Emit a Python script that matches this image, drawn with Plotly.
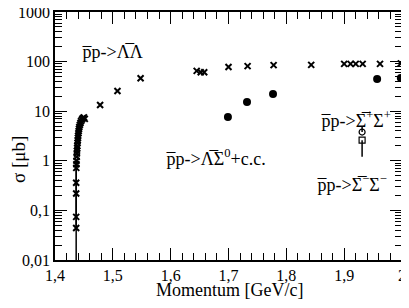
import plotly.graph_objects as go

# pbar p -> Lambda-bar Lambda (crosses)
ll_p = [1.4366, 1.4366, 1.4366, 1.4366, 1.4368,
        1.4370, 1.4372, 1.4375, 1.4378, 1.4380, 1.4383, 1.4386, 1.4390, 1.4393,
        1.4397, 1.4400, 1.4405, 1.4410, 1.4415, 1.4420, 1.4430, 1.4440, 1.4450,
        1.4465, 1.4480, 1.4500, 1.4515,
        1.478, 1.508, 1.548, 1.645, 1.652, 1.658, 1.700, 1.733, 1.778, 1.843,
        1.900, 1.911, 1.920, 1.932, 1.962, 1.998]
ll_s = [0.044, 0.074, 0.22, 0.36, 0.72,
        0.85, 1.0, 1.2, 1.4, 1.6, 1.8, 2.0, 2.3, 2.6,
        2.9, 3.2, 3.6, 4.0, 4.4, 4.8, 5.3, 5.8, 6.3,
        6.8, 7.2, 7.5, 7.0,
        13.3, 25.5, 46, 65, 61, 61, 78, 81, 85, 86,
        90, 90, 90, 90, 90, 92]
ll_err_minus = [0.04, 0.03, 0.15, 0.15, 0.35] + [0] * (len(ll_p) - 5)
ll_err_plus = [0.04, 0.15, 0.2, 0.45, 0.3] + [0] * (len(ll_p) - 5)

# pbar p -> Lambda-bar Sigma0 + c.c. (filled circles)
ls_p = [1.699, 1.732, 1.777, 1.957, 1.998]
ls_s = [7.6, 15.3, 22.2, 44.6, 46.5]

# pbar p -> Sigma-bar+ Sigma+ (open circle, open square)
sp_p = [1.931]
sp_circle = [3.8]
sp_square = [2.6]

xtick_vals = [1.4, 1.5, 1.6, 1.7, 1.8, 1.9, 2.0]
xtick_text = ["1,4", "1,5", "1,6", "1,7", "1,8", "1,9", "2"]
ytick_vals = [0.01, 0.1, 1, 10, 100, 1000]
ytick_text = ["0,01", "0,1", "1", "10", "100", "1000"]

FONT = "Liberation Serif, Times New Roman, serif"

fig = go.Figure()
fig.add_trace(go.Scatter(
    x=ll_p, y=ll_s, mode="markers",
    marker=dict(symbol="x-thin", size=6, color="black", line=dict(width=2, color="black")),
    error_y=dict(type="data", symmetric=False, array=ll_err_plus, arrayminus=ll_err_minus,
                 width=0, thickness=1.5, color="black"),
    cliponaxis=True, showlegend=False))
fig.add_trace(go.Scatter(
    x=ls_p, y=ls_s, mode="markers",
    marker=dict(symbol="circle", size=8, color="black"),
    cliponaxis=False, showlegend=False))
fig.add_trace(go.Scatter(
    x=sp_p, y=sp_circle, mode="markers",
    marker=dict(symbol="circle-open", size=6, color="black", line=dict(width=1.2)),
    error_y=dict(type="data", symmetric=False, array=[1.0], arrayminus=[0.0],
                 width=0, thickness=1.5, color="black"),
    showlegend=False))
fig.add_trace(go.Scatter(
    x=sp_p, y=sp_square, mode="markers",
    marker=dict(symbol="square-open", size=6, color="black", line=dict(width=1.2)),
    error_y=dict(type="data", symmetric=False, array=[0.0], arrayminus=[1.4],
                 width=0, thickness=1.5, color="black"),
    showlegend=False))

ann_font = dict(family=FONT, size=18, color="black")
anns = [
    (0.167, 0.839, "p\u0305p->\u039b\u0305\u039b"),
    (0.464, 0.415, "p\u0305p->\u039b\u0305\u03a3<sup>0</sup>+c.c."),
    (0.867, 0.565, "p\u0305p->\u03a3\u0305<sup>+</sup>\u03a3<sup>+</sup>"),
    (0.856, 0.310, "p\u0305p->\u03a3\u0305<sup>\u2212</sup>\u03a3<sup>\u2212</sup>"),
]
for ax_, ay_, t in anns:
    fig.add_annotation(x=ax_, y=ay_, xref="paper", yref="paper", text=t,
                       showarrow=False, font=ann_font, xanchor="center", yanchor="middle")

# axis titles
fig.add_annotation(x=0.504, y=-0.121, xref="paper", yref="paper", text="Momentum [GeV/c]",
                   showarrow=False, font=dict(family=FONT, size=18, color="black"),
                   xanchor="center", yanchor="middle")
fig.add_annotation(x=-0.1066, y=0.403, xref="paper", yref="paper", text="\u03c3 [\u03bcb]",
                   showarrow=False, font=dict(family=FONT, size=19, color="black"),
                   textangle=-90, xanchor="center", yanchor="middle")

axis_common = dict(
    showline=True, linecolor="black", linewidth=1.5, mirror="allticks",
    ticks="inside", ticklen=12, tickwidth=1.2, tickcolor="black",
    showgrid=False, zeroline=False, automargin=False, ticklabeloverflow="allow",
    tickfont=dict(family=FONT, size=16, color="black"),
)
fig.update_xaxes(
    range=[1.4, 2.0], tickvals=xtick_vals, ticktext=xtick_text,
    minor=dict(ticks="inside", ticklen=7, tickwidth=1.2, tickcolor="black", dtick=0.02, showgrid=False),
    **axis_common)
fig.update_yaxes(
    type="log", range=[-2, 3], tickvals=ytick_vals, ticktext=ytick_text,
    minor=dict(ticks="inside", ticklen=7, tickwidth=1.2, tickcolor="black", dtick="D1", showgrid=False),
    **axis_common)

# the page body has an 8px margin, so the figure is sized/shifted to fit the window
fig.update_layout(
    width=401, height=292,
    margin=dict(l=47, r=7, t=4, b=40),
    paper_bgcolor="white", plot_bgcolor="white",
    font=dict(family=FONT),
)
fig.write_html("out.html")
